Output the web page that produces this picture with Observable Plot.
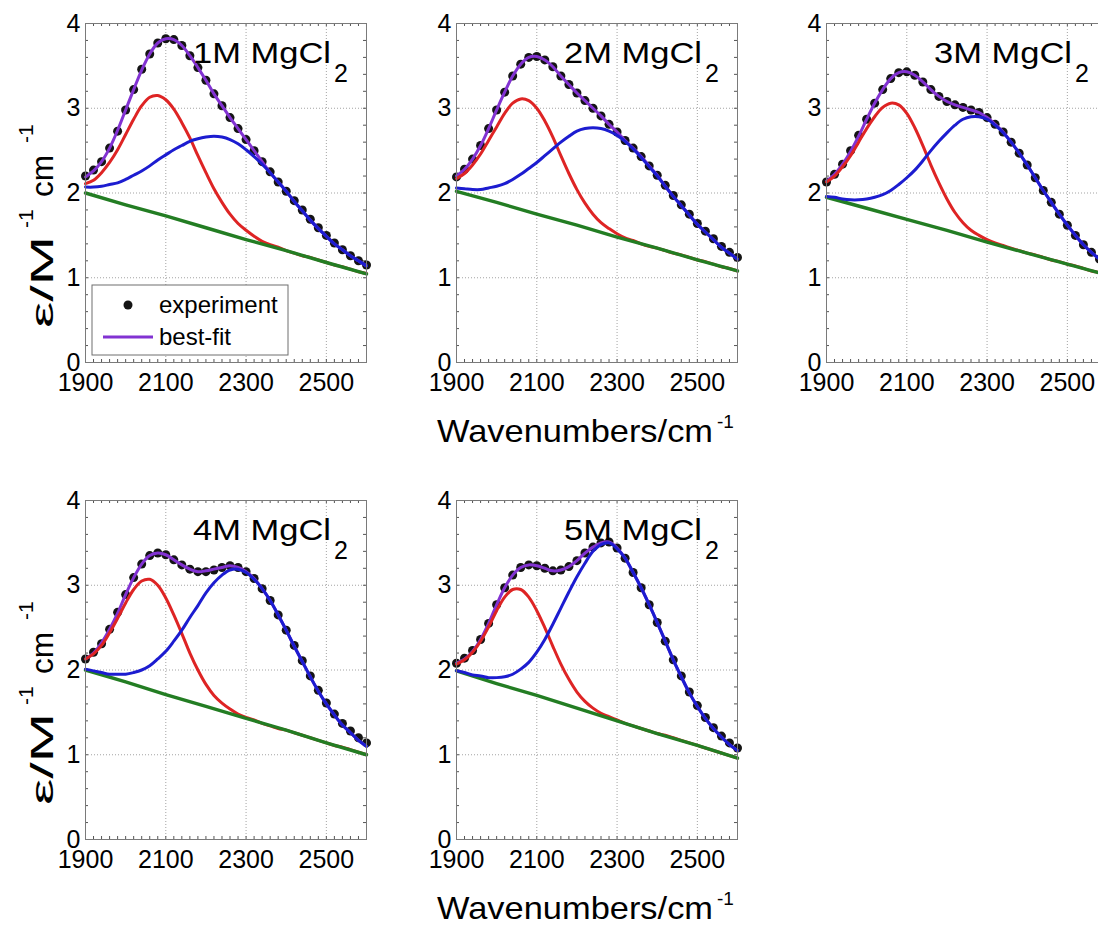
<!DOCTYPE html>
<html>
<head>
<meta charset="utf-8">
<script src="https://cdn.jsdelivr.net/npm/d3@7"></script>
<script src="https://cdn.jsdelivr.net/npm/@observablehq/plot@0.6"></script>
<style>
  body { margin: 0; background: #fff; }
  #fig { position: relative; width: 1098px; height: 925px; overflow: hidden; background: #fff; }
</style>
</head>
<body>
<div id="fig"></div>
<script>
// Wavenumber grid (cm^-1) shared by the measured spectra and the fitted curves
const wavenumbers = [1900,1920,1940,1960,1980,2000,2020,2040,2060,2080,2100,2120,2140,2160,2180,2200,2220,2240,2260,2280,2300,2320,2340,2360,2380,2400,2420,2440,2460,2480,2500,2520,2540,2560,2580,2600];
// Wavenumbers at which the linear baseline is listed
const baselineWavenumbers = [1900,2000,2100,2200,2300,2400,2500,2600];

const concentrations = ["1M","2M","3M","4M","5M"];
const xTicks = [1900,2100,2300,2500];
const yTicks = [0,1,2,3,4];

// 1 M MgCl2
const experiment1M = [2.20,2.27,2.37,2.53,2.73,2.98,3.22,3.46,3.64,3.77,3.82,3.81,3.74,3.62,3.48,3.33,3.17,3.03,2.89,2.76,2.63,2.50,2.37,2.25,2.13,2.02,1.91,1.80,1.69,1.59,1.50,1.41,1.33,1.26,1.20,1.15];
const bestFit1M    = [2.19,2.26,2.37,2.53,2.74,2.98,3.22,3.45,3.64,3.77,3.82,3.81,3.74,3.62,3.48,3.33,3.17,3.03,2.89,2.76,2.63,2.50,2.37,2.24,2.13,2.02,1.90,1.79,1.68,1.58,1.49,1.40,1.33,1.26,1.20,1.14];
const lowBand1M    = [2.11,2.15,2.24,2.36,2.51,2.69,2.87,3.03,3.13,3.15,3.10,2.99,2.83,2.65,2.44,2.24,2.05,1.89,1.75,1.64,1.56,1.49,1.43,1.39,1.36,1.32,1.29,1.26,1.24,1.21,1.18,1.15,1.13,1.10,1.07,1.05];
const highBand1M   = [2.07,2.07,2.08,2.10,2.12,2.16,2.21,2.26,2.32,2.39,2.45,2.51,2.56,2.61,2.64,2.66,2.67,2.66,2.63,2.58,2.51,2.43,2.34,2.24,2.13,2.02,1.90,1.79,1.68,1.58,1.49,1.40,1.33,1.26,1.20,1.14];
const baseline1M   = [2.00,1.86,1.73,1.59,1.45,1.32,1.18,1.045];

// 2 M MgCl2
const experiment2M = [2.19,2.28,2.40,2.56,2.76,2.98,3.19,3.38,3.52,3.60,3.61,3.57,3.49,3.38,3.28,3.18,3.09,3.00,2.91,2.81,2.72,2.62,2.53,2.43,2.32,2.21,2.09,1.97,1.86,1.75,1.64,1.55,1.46,1.37,1.30,1.24];
const bestFit2M    = [2.20,2.28,2.40,2.56,2.76,2.98,3.19,3.38,3.52,3.60,3.61,3.57,3.49,3.38,3.28,3.18,3.09,3.00,2.91,2.81,2.72,2.62,2.53,2.43,2.32,2.21,2.08,1.96,1.85,1.74,1.63,1.54,1.45,1.36,1.29,1.22];
const lowBand2M    = [2.17,2.23,2.33,2.46,2.62,2.78,2.94,3.06,3.11,3.09,3.00,2.85,2.66,2.44,2.23,2.04,1.88,1.75,1.65,1.58,1.52,1.47,1.44,1.40,1.37,1.35,1.32,1.29,1.27,1.24,1.21,1.19,1.16,1.13,1.11,1.08];
const highBand2M   = [2.06,2.05,2.04,2.04,2.06,2.08,2.11,2.16,2.22,2.29,2.36,2.44,2.52,2.60,2.67,2.73,2.76,2.77,2.76,2.73,2.68,2.61,2.52,2.42,2.31,2.20,2.08,1.96,1.85,1.74,1.63,1.54,1.45,1.36,1.29,1.22];
const baseline2M   = [2.02,1.89,1.75,1.62,1.48,1.35,1.21,1.08];

// 3 M MgCl2
const experiment3M = [2.13,2.22,2.34,2.50,2.68,2.87,3.06,3.22,3.35,3.42,3.43,3.39,3.31,3.22,3.14,3.08,3.04,3.01,2.98,2.95,2.89,2.81,2.72,2.60,2.47,2.33,2.18,2.03,1.89,1.75,1.62,1.50,1.39,1.30,1.22,1.16];
const bestFit3M    = [2.14,2.22,2.34,2.49,2.67,2.87,3.06,3.22,3.35,3.42,3.43,3.39,3.31,3.22,3.14,3.08,3.04,3.01,2.98,2.95,2.89,2.81,2.72,2.60,2.47,2.33,2.18,2.03,1.89,1.75,1.62,1.50,1.39,1.30,1.22,1.15];
const lowBand3M    = [2.13,2.20,2.31,2.44,2.60,2.76,2.90,3.01,3.06,3.04,2.94,2.77,2.56,2.33,2.12,1.93,1.77,1.65,1.56,1.50,1.45,1.41,1.38,1.35,1.32,1.29,1.27,1.24,1.21,1.19,1.16,1.14,1.11,1.08,1.06,1.03];
const highBand3M   = [1.96,1.95,1.93,1.92,1.92,1.93,1.95,1.98,2.03,2.10,2.18,2.27,2.38,2.50,2.61,2.71,2.80,2.87,2.90,2.90,2.87,2.80,2.71,2.60,2.47,2.33,2.18,2.03,1.89,1.75,1.62,1.50,1.39,1.30,1.22,1.15];
const baseline3M   = [1.95,1.82,1.69,1.56,1.42,1.29,1.16,1.03];

// 4 M MgCl2
const experiment4M = [2.13,2.21,2.31,2.48,2.68,2.89,3.09,3.25,3.35,3.38,3.36,3.30,3.24,3.19,3.16,3.16,3.18,3.21,3.23,3.21,3.16,3.08,2.96,2.82,2.65,2.47,2.29,2.11,1.93,1.76,1.61,1.48,1.37,1.28,1.20,1.14];
const bestFit4M    = [2.13,2.20,2.32,2.48,2.67,2.89,3.09,3.25,3.35,3.38,3.36,3.30,3.24,3.19,3.16,3.17,3.19,3.21,3.23,3.21,3.16,3.08,2.96,2.82,2.65,2.47,2.28,2.10,1.92,1.75,1.60,1.47,1.35,1.26,1.17,1.10];
const lowBand4M    = [2.13,2.19,2.29,2.44,2.61,2.79,2.95,3.05,3.07,3.00,2.85,2.65,2.43,2.20,2.00,1.83,1.70,1.61,1.54,1.48,1.44,1.41,1.37,1.34,1.31,1.29,1.26,1.23,1.20,1.17,1.14,1.11,1.09,1.06,1.03,1.00];
const highBand4M   = [2.01,1.99,1.97,1.95,1.95,1.95,1.97,2.00,2.05,2.13,2.22,2.34,2.47,2.62,2.76,2.91,3.03,3.12,3.18,3.19,3.15,3.07,2.96,2.82,2.65,2.47,2.28,2.10,1.92,1.75,1.60,1.47,1.35,1.26,1.17,1.10];
const baseline4M   = [2.00,1.86,1.71,1.57,1.43,1.29,1.14,1.00];

// 5 M MgCl2
const experiment5M = [2.08,2.14,2.23,2.36,2.55,2.77,2.97,3.12,3.21,3.24,3.23,3.20,3.17,3.18,3.22,3.29,3.38,3.45,3.50,3.51,3.44,3.32,3.15,2.97,2.77,2.56,2.34,2.12,1.93,1.74,1.58,1.44,1.32,1.22,1.14,1.08];
const bestFit5M    = [2.08,2.13,2.22,2.36,2.55,2.77,2.97,3.12,3.21,3.24,3.23,3.20,3.17,3.18,3.22,3.29,3.38,3.45,3.50,3.51,3.44,3.32,3.15,2.97,2.77,2.56,2.34,2.12,1.92,1.73,1.57,1.43,1.31,1.21,1.12,1.05];
const lowBand5M    = [2.07,2.12,2.21,2.34,2.51,2.70,2.86,2.95,2.95,2.86,2.70,2.50,2.28,2.07,1.89,1.74,1.63,1.55,1.49,1.45,1.41,1.37,1.34,1.31,1.28,1.25,1.23,1.20,1.17,1.14,1.11,1.08,1.05,1.02,0.99,0.96];
const highBand5M   = [1.99,1.97,1.94,1.93,1.91,1.91,1.92,1.95,2.01,2.09,2.21,2.36,2.54,2.73,2.92,3.10,3.26,3.40,3.48,3.50,3.43,3.32,3.15,2.97,2.77,2.56,2.34,2.12,1.92,1.73,1.57,1.43,1.31,1.21,1.12,1.05];
const baseline5M   = [1.99,1.84,1.70,1.55,1.40,1.25,1.11,0.96];

const panels = [
  {experiment: experiment1M, fit: bestFit1M, low: lowBand1M, high: highBand1M, baseline: baseline1M},
  {experiment: experiment2M, fit: bestFit2M, low: lowBand2M, high: highBand2M, baseline: baseline2M},
  {experiment: experiment3M, fit: bestFit3M, low: lowBand3M, high: highBand3M, baseline: baseline3M},
  {experiment: experiment4M, fit: bestFit4M, low: lowBand4M, high: highBand4M, baseline: baseline4M},
  {experiment: experiment5M, fit: bestFit5M, low: lowBand5M, high: highBand5M, baseline: baseline5M}
];

const COLORS = {dot: "#141414", fit: "#8232d2", low: "#de2424", high: "#1c1cd0", base: "#237d23"};
const FONT = "'Liberation Sans', Arial, Helvetica, sans-serif";

// Plot-area size and the top-left corner of each panel's frame on the page
const W = 281, H = 339;
const frames = [[85, 23], [456, 23], [826, 23], [85, 500], [456, 500]];
const M = {left: 70, right: 12, top: 12, bottom: 50};

const xMinor = d3.range(1900, 2601, 20);
const yMinor = d3.range(0, 4.001, 0.2);

const fig = document.getElementById("fig");

panels.forEach((p, k) => {
  const [fx, fy] = frames[k];
  const rows = wavenumbers.map((w, i) => ({w, e: p.experiment[i], fit: p.fit[i], low: p.low[i], high: p.high[i]}));
  const base = baselineWavenumbers.map((w, i) => ({w, b: p.baseline[i]}));
  const grid = {stroke: "#8c8c8c", strokeOpacity: 0.8, strokeDasharray: "1,2"};
  const tick = {stroke: "#555", strokeWidth: 1};
  const chart = Plot.plot({
    width: M.left + W + M.right,
    height: M.top + H + M.bottom,
    marginLeft: M.left, marginRight: M.right, marginTop: M.top, marginBottom: M.bottom,
    style: {fontFamily: FONT, fontSize: "25px", color: "#000", background: "transparent", overflow: "visible"},
    x: {domain: [1900, 2600], label: null, axis: null},
    y: {domain: [0, 4], label: null, axis: null},
    marks: [
      Plot.gridX({ticks: xTicks.slice(1), ...grid}),
      Plot.gridY({ticks: yTicks.slice(1, -1), ...grid}),
      Plot.ruleX(xMinor, {...tick, insetTop: H - 3}),
      Plot.ruleX(xMinor, {...tick, insetBottom: H - 3}),
      Plot.ruleY(yMinor, {...tick, insetRight: W - 3}),
      Plot.ruleY(yMinor, {...tick, insetLeft: W - 3}),
      Plot.dot(rows, {x: "w", y: "e", r: 4.5, fill: COLORS.dot}),
      Plot.line(rows, {x: "w", y: "fit", stroke: COLORS.fit, strokeWidth: 3, curve: "catmull-rom"}),
      Plot.line(rows, {x: "w", y: "low", stroke: COLORS.low, strokeWidth: 3, curve: "catmull-rom"}),
      Plot.line(base, {x: "w", y: "b", stroke: COLORS.base, strokeWidth: 3.4}),
      Plot.line(rows, {x: "w", y: "high", stroke: COLORS.high, strokeWidth: 3, curve: "catmull-rom"}),
      Plot.frame({stroke: "#7a7a7a"}),
      // tick labels
      Plot.text(xTicks, {x: d => d, y: 0, dy: 20, text: d => String(d), fontSize: 25, fill: "#000", textAnchor: "middle"}),
      Plot.text(yTicks, {x: 1900, y: d => d, dx: -5, text: d => String(d), fontSize: 25, fill: "#000", textAnchor: "end"})
    ]
  });
  chart.style.position = "absolute";
  chart.style.left = (fx - M.left) + "px";
  chart.style.top = (fy - M.top) + "px";
  fig.appendChild(chart);
});

// Titles, axis labels and legend
const svg = d3.select(fig).append("svg")
  .attr("width", 1098).attr("height", 925)
  .style("position", "absolute").style("left", "0px").style("top", "0px")
  .style("font-family", FONT).attr("fill", "#000");

concentrations.forEach((c, k) => {
  const [fx, fy] = frames[k];
  svg.append("text").attr("x", fx + 108).attr("y", fy + 40)
    .attr("font-size", 30).attr("textLength", 138).attr("lengthAdjust", "spacingAndGlyphs")
    .text(c + " MgCl");
  svg.append("text").attr("x", fx + 249).attr("y", fy + 59)
    .attr("font-size", 25).text("2");
});

// x-axis label under the middle column of each row
[362, 839].forEach(bottom => {
  svg.append("text").attr("x", 437).attr("y", bottom + 80)
    .attr("font-size", 32).attr("textLength", 276).attr("lengthAdjust", "spacingAndGlyphs")
    .text("Wavenumbers/cm");
  svg.append("text").attr("x", 717).attr("y", bottom + 66)
    .attr("font-size", 19).text("-1");
});

// y-axis label beside the left column of each row
[23, 500].forEach(top => {
  const g = svg.append("g").attr("transform", `translate(53,${top + 305}) rotate(-90)`);
  g.append("text").attr("x", 0).attr("y", 0).attr("font-size", 32)
    .attr("textLength", 92).attr("lengthAdjust", "spacingAndGlyphs").text("ε/M");
  g.append("text").attr("x", 100).attr("y", -20).attr("font-size", 21).text("-1");
  g.append("text").attr("x", 131).attr("y", 0).attr("font-size", 32)
    .attr("textLength", 42).attr("lengthAdjust", "spacingAndGlyphs").text("cm");
  g.append("text").attr("x", 185).attr("y", -20).attr("font-size", 21).text("-1");
});

// Legend in the first panel
{
  const [fx, fy] = frames[0];
  const lg = svg.append("g").attr("transform", `translate(${fx + 7},${fy + 262})`);
  lg.append("rect").attr("width", 196).attr("height", 70).attr("fill", "#fff").attr("stroke", "#6e6e6e");
  lg.append("circle").attr("cx", 36).attr("cy", 20).attr("r", 4.5).attr("fill", COLORS.dot);
  lg.append("text").attr("x", 67).attr("y", 28).attr("font-size", 24).text("experiment");
  lg.append("line").attr("x1", 11).attr("x2", 61).attr("y1", 52).attr("y2", 52)
    .attr("stroke", COLORS.fit).attr("stroke-width", 3);
  lg.append("text").attr("x", 67).attr("y", 60).attr("font-size", 24).text("best-fit");
}
</script>
</body>
</html>
